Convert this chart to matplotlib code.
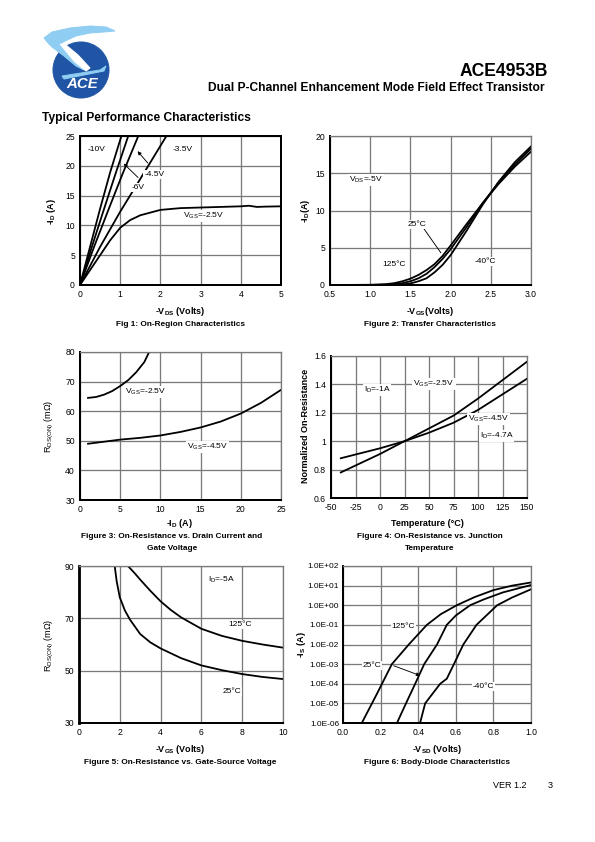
import numpy as np
import matplotlib
matplotlib.use("Agg")
import matplotlib.pyplot as plt
from matplotlib.patches import Circle, Polygon

plt.rcParams['font.family'] = ['Liberation Sans', 'DejaVu Sans']
plt.rcParams['mathtext.fontset'] = 'custom'
plt.rcParams['mathtext.rm'] = 'Liberation Sans'
plt.rcParams['mathtext.bf'] = 'Liberation Sans:bold'
plt.rcParams['mathtext.default'] = 'regular'
plt.rcParams['axes.unicode_minus'] = False

W, H = 595, 842
# ---------------- data ----------------
# Fig 1: On-region characteristics
vds_10 = [0, 0.25, 0.5, 0.75, 1.03]
id_10 = [0, 6.4, 12.8, 18.9, 25]
vds_6 = [0, 0.3, 0.6, 0.9, 1.2]
id_6 = [0, 6.5, 12.8, 19.0, 25]
vds_45 = [0, 0.35, 0.7, 1.05, 1.45]
id_45 = [0, 6.4, 12.5, 18.5, 25]
vds_35 = [0, 0.5, 1.0, 1.5, 2.15]
id_35 = [0, 6.4, 12.3, 17.8, 25]
vds_25 = [0, 0.36, 0.5, 0.75, 1.0, 1.25, 1.5, 2.0, 2.5, 3.0, 3.5, 4.0, 4.2, 4.4, 4.6, 5.0]
id_25 = [0, 3.6, 5.0, 7.5, 9.6, 10.9, 11.7, 12.6, 12.9, 13.0, 13.1, 13.2, 13.3, 13.1, 13.15, 13.2]

# Fig 2: Transfer characteristics
vgs_t = [0.5, 1.0, 1.2, 1.3, 1.4, 1.5, 1.6, 1.7, 1.8, 1.9, 2.0, 2.2, 2.4, 2.6, 2.8, 3.0]
id_125 = [0, 0.03, 0.12, 0.25, 0.5, 0.85, 1.35, 2.0, 2.8, 3.9, 5.3, 8.2, 11.0, 13.6, 15.9, 17.9]
id_25c = [0, 0.0, 0.03, 0.1, 0.25, 0.5, 0.9, 1.5, 2.4, 3.5, 4.8, 7.8, 11.0, 13.8, 16.2, 18.3]
id_m40 = [0, 0.0, 0.0, 0.02, 0.08, 0.2, 0.5, 0.9, 1.7, 2.7, 4.0, 7.3, 10.8, 13.9, 16.5, 18.6]

# Fig 3: On-resistance vs drain current
id_a = [1, 2, 3, 4, 5, 6, 7, 8, 8.6]
r_a = [64.5, 64.8, 65.6, 66.8, 68.5, 70.5, 73.2, 76.6, 80]
id_b = [1, 3, 5, 7.5, 10, 12.5, 15, 17.5, 20, 22.5, 25]
r_b = [49.0, 49.7, 50.4, 51.0, 51.8, 53.0, 54.5, 56.5, 59.2, 62.8, 67.2]

# Fig 4: Normalized on-resistance vs temperature
temp = [-40, 0, 25, 50, 75, 100, 125, 150]
rn_1a = [0.88, 0.95, 1.0, 1.06, 1.13, 1.22, 1.33, 1.44]
rn_47a = [0.78, 0.91, 1.0, 1.09, 1.18, 1.30, 1.43, 1.56]

# Fig 5: On-resistance vs gate-source voltage
vg_25 = [1.75, 1.85, 2.0, 2.25, 2.5, 3.0, 3.5, 4.0, 5.0, 6.0, 7.0, 8.0, 9.0, 10.0]
r_25 = [90, 84, 78, 73, 69.5, 64.0, 60.8, 58.5, 54.8, 52.0, 50.2, 48.7, 47.6, 46.8]
vg_125 = [2.4, 2.7, 3.0, 3.5, 4.0, 4.5, 5.0, 6.0, 7.0, 8.0, 9.0, 10.0]
r_125 = [90, 87.5, 84.8, 80.5, 76.5, 73.2, 70.4, 66.0, 63.3, 61.4, 60.0, 58.8]

# Fig 6: Body diode characteristics
vsd_125 = [0.10, 0.18, 0.26, 0.35, 0.446, 0.52, 0.605, 0.7, 0.8, 0.9, 1.0]
is_125 = [1e-6, 3e-5, 1e-3, 1e-2, 1e-1, 0.35, 1.0, 2.6, 5.9, 10.0, 14.5]
vsd_25 = [0.287, 0.335, 0.384, 0.432, 0.5, 0.552, 0.6, 0.676, 0.75, 0.85, 1.0]
is_25 = [1e-6, 1e-5, 1e-4, 1e-3, 1e-2, 1e-1, 0.3, 1.0, 2.0, 4.5, 10.7]
vsd_m40 = [0.41, 0.437, 0.517, 0.552, 0.59, 0.64, 0.71, 0.82, 0.9, 1.0]
is_m40 = [1e-6, 1e-5, 1e-4, 1.8e-4, 1e-3, 1e-2, 1e-1, 1.0, 2.5, 6.5]

log_ticks = [1e-6, 1e-5, 1e-4, 1e-3, 1e-2, 1e-1, 1e0, 1e1, 1e2]
log_labels = ['1.0E-06', '1.0E-05', '1.0E-04', '1.0E-03', '1.0E-02', '1.0E-01',
              '1.0E+00', '1.0E+01', '1.0E+02']

# ---------------- figure ----------------
fig = plt.figure(figsize=(W / 72, H / 72), dpi=72)
bg = fig.add_axes([0, 0, 1, 1])
bg.set_xlim(0, W)
bg.set_ylim(H, 0)
bg.axis('off')

# logo
LB = '#8fcdf2'
bg.add_patch(Circle((81, 70), 28, color='#1f55a4', zorder=1))
bg.add_patch(Polygon([(44, 38), (52, 32), (70, 28), (90, 26), (106, 27), (115, 31),
                      (104, 32), (90, 33), (76, 36), (63, 42), (57, 47), (50, 45)],
                     closed=True, color=LB, zorder=2))
bg.add_patch(Polygon([(46, 40), (58, 43), (70, 52), (80, 63), (84, 70), (76, 66),
                      (64, 56), (52, 47)], closed=True, color=LB, zorder=2))
bg.add_patch(Polygon([(60, 44), (66, 45), (78, 55), (90, 68), (86, 71), (74, 61)],
                     closed=True, color='white', zorder=3))
bg.add_patch(Polygon([(62, 76), (100, 70), (106, 66), (104, 71), (64, 79)],
                     closed=True, color=LB, zorder=2))
bg.text(82, 84, 'ACE', color='white', fontsize=15, fontweight='bold', style='italic',
        ha='center', va='center', zorder=4)

bg.text(548, 71, 'ACE4953B', fontsize=17.5, fontweight='bold', ha='right', va='center')
bg.text(545, 88, 'Dual P-Channel Enhancement Mode Field Effect Transistor', fontsize=12,
        fontweight='bold', ha='right', va='center')
bg.text(42, 118, 'Typical Performance Characteristics', fontsize=12, fontweight='bold',
        ha='left', va='center')
bg.text(493, 785, 'VER 1.2', fontsize=9, ha='left', va='center')
bg.text(553, 785, '3', fontsize=9, ha='right', va='center')

GRID = '#7a7a7a'
TICK = 8.6
LBL = 9.0
CAP = 8.2
INL = 8.4
box = dict(facecolor='white', edgecolor='none', pad=1.0)


def make_ax(l, r_, t_, b_, all_black=False):
    ax = fig.add_axes([l / W, 1 - b_ / H, (r_ - l) / W, (b_ - t_) / H])
    ax.grid(True, color=GRID, linewidth=1.3)
    ax.set_axisbelow(True)
    ax.tick_params(length=0, labelsize=TICK, pad=5)
    for s in ['left', 'bottom']:
        ax.spines[s].set_linewidth(2.0)
        ax.spines[s].set_color('black')
    for s in ['top', 'right']:
        ax.spines[s].set_linewidth(2.0 if all_black else 1.3)
        ax.spines[s].set_color('black' if all_black else GRID)
    return ax


def ptext(x, y, s, **kw):
    kw.setdefault('ha', 'center')
    kw.setdefault('va', 'center')
    bg.text(x, y, s, **kw)


LW = 1.8
# ---- Fig 1 ----
ax1 = make_ax(80, 281, 136, 285, all_black=True)
for xs, ys in [(vds_10, id_10), (vds_6, id_6), (vds_45, id_45), (vds_35, id_35), (vds_25, id_25)]:
    ax1.plot(xs, ys, color='black', lw=LW, clip_on=True)
ax1.set_xlim(0, 5)
ax1.set_ylim(0, 25)
ax1.set_xticks([0, 1, 2, 3, 4, 5])
ax1.set_yticks([0, 5, 10, 15, 20, 25])
ax1.text(0.42, 22.7, '-10V', fontsize=INL, ha='center', va='center', bbox=box)
ax1.text(2.3, 22.8, '-3.5V', fontsize=INL, ha='left', va='center', bbox=box)
ax1.text(1.85, 18.6, '-4.5V', fontsize=INL, ha='center', va='center', bbox=box)
ax1.text(1.45, 16.4, '-6V', fontsize=INL, ha='center', va='center', bbox=box)
ax1.annotate('', xy=(1.4, 22.7), xytext=(1.72, 20.2),
             arrowprops=dict(arrowstyle='-|>', color='black', lw=0.9, mutation_scale=7))
ax1.annotate('', xy=(1.05, 20.6), xytext=(1.48, 17.8),
             arrowprops=dict(arrowstyle='-|>', color='black', lw=0.9, mutation_scale=7))
ax1.text(2.55, 11.6, 'V$_{GS}$=-2.5V', fontsize=INL, ha='left', va='center', bbox=box)
ptext(180, 311, '-V$_{\\mathbf{DS}}$ (Volts)', fontsize=LBL, fontweight='bold')
ptext(180, 324, 'Fig 1: On-Region Characteristics', fontsize=CAP, fontweight='bold')
ptext(51, 211, '-I$_{\\mathbf{D}}$ (A)', fontsize=LBL, fontweight='bold', rotation=90)

# ---- Fig 2 ----
ax2 = make_ax(330, 531, 136, 285)
for ys in [id_125, id_25c, id_m40]:
    ax2.plot(vgs_t, ys, color='black', lw=LW)
ax2.set_xlim(0.5, 3.0)
ax2.set_ylim(0, 20)
ax2.set_xticks([0.5, 1.0, 1.5, 2.0, 2.5, 3.0])
ax2.set_xticklabels(['0.5', '1.0', '1.5', '2.0', '2.5', '3.0'])
ax2.set_yticks([0, 5, 10, 15, 20])
ax2.text(0.95, 14.1, 'V$_{DS}$=-5V', fontsize=INL, ha='center', va='center', bbox=box)
ax2.text(1.58, 8.1, '25°C', fontsize=INL, ha='center', va='center', bbox=box)
ax2.plot([1.665, 1.877], [7.6, 4.35], color='black', lw=0.9)
ax2.text(1.3, 2.8, '125°C', fontsize=INL, ha='center', va='center', bbox=box)
ax2.text(2.43, 3.2, '-40°C', fontsize=INL, ha='center', va='center', bbox=box)
ptext(430, 311, '-V$_{\\mathbf{GS}}$(Volts)', fontsize=LBL, fontweight='bold')
ptext(430, 324, 'Figure 2: Transfer Characteristics', fontsize=CAP, fontweight='bold')
ptext(305, 211, '-I$_{\\mathbf{D}}$(A)', fontsize=LBL, fontweight='bold', rotation=90)

# ---- Fig 3 ----
ax3 = make_ax(80, 281, 352, 500)
ax3.plot(id_a, r_a, color='black', lw=LW)
ax3.plot(id_b, r_b, color='black', lw=LW)
ax3.set_xlim(0, 25)
ax3.set_ylim(30, 80)
ax3.set_xticks([0, 5, 10, 15, 20, 25])
ax3.set_yticks([30, 40, 50, 60, 70, 80])
ax3.text(8.2, 66.5, 'V$_{GS}$=-2.5V', fontsize=INL, ha='center', va='center', bbox=box)
ax3.text(15.9, 47.9, 'V$_{GS}$=-4.5V', fontsize=INL, ha='center', va='center', bbox=box)
ptext(180, 524, '-I$_{\\mathbf{D}}$ (A)', fontsize=LBL, fontweight='bold')
ptext(172, 537, 'Figure 3: On-Resistance vs. Drain Current and', fontsize=CAP, fontweight='bold')
ptext(172, 549, 'Gate Voltage', fontsize=CAP, fontweight='bold')
ptext(49, 426, 'R$_{DS(ON)}$ (mΩ)', fontsize=LBL, rotation=90)

# ---- Fig 4 ----
ax4 = make_ax(331, 527, 356, 498)
ax4.plot(temp, rn_1a, color='black', lw=LW)
ax4.plot(temp, rn_47a, color='black', lw=LW)
ax4.set_xlim(-50, 150)
ax4.set_ylim(0.6, 1.6)
ax4.set_xticks([-50, -25, 0, 25, 50, 75, 100, 125, 150])
ax4.set_yticks([0.6, 0.8, 1.0, 1.2, 1.4, 1.6])
ax4.set_yticklabels(['0.6', '0.8', '1', '1.2', '1.4', '1.6'])
ax4.text(-3, 1.36, 'I$_D$=-1A', fontsize=INL, ha='center', va='center', bbox=box)
ax4.text(55, 1.405, 'V$_{GS}$=-2.5V', fontsize=INL, ha='center', va='center', bbox=box)
ax4.text(111, 1.154, 'V$_{GS}$=-4.5V', fontsize=INL, ha='center', va='center', bbox=box)
ax4.text(119, 1.034, 'I$_D$=-4.7A', fontsize=INL, ha='center', va='center', bbox=box)
ptext(427, 524, 'Temperature (°C)', fontsize=LBL, fontweight='bold')
ptext(430, 536, 'Figure 4: On-Resistance vs. Junction', fontsize=CAP, fontweight='bold')
ptext(430, 548, 'Temperature', fontsize=CAP, fontweight='bold')
ptext(305, 426, 'Normalized On-Resistance', fontsize=LBL, fontweight='bold', rotation=90)

# ---- Fig 5 ----
ax5 = make_ax(79, 283, 566, 723)
ax5.spines['left'].set_linewidth(2.8)
ax5.plot(vg_25, r_25, color='black', lw=LW)
ax5.plot(vg_125, r_125, color='black', lw=LW)
ax5.set_xlim(0, 10)
ax5.set_ylim(30, 90)
ax5.set_xticks([0, 2, 4, 6, 8, 10])
ax5.set_yticks([30, 50, 70, 90])
ax5.text(7.0, 84.6, 'I$_D$=-5A', fontsize=INL, ha='center', va='center', bbox=box)
ax5.text(7.9, 67.8, '125°C', fontsize=INL, ha='center', va='center', bbox=box)
ax5.text(7.5, 41.9, '25°C', fontsize=INL, ha='center', va='center', bbox=box)
ptext(180, 750, '-V$_{\\mathbf{GS}}$ (Volts)', fontsize=LBL, fontweight='bold')
ptext(180, 763, 'Figure 5: On-Resistance vs. Gate-Source Voltage', fontsize=CAP, fontweight='bold')
ptext(49, 645, 'R$_{DS(ON)}$ (mΩ)', fontsize=LBL, rotation=90)

# ---- Fig 6 ----
ax6 = make_ax(343, 531, 566, 723)
ax6.set_yscale('log')
ax6.plot(vsd_125, is_125, color='black', lw=LW)
ax6.plot(vsd_25, is_25, color='black', lw=LW)
ax6.plot(vsd_m40, is_m40, color='black', lw=LW)
ax6.set_xlim(0, 1.0)
ax6.set_ylim(1e-6, 1e2)
ax6.set_xticks([0, 0.2, 0.4, 0.6, 0.8, 1.0])
ax6.set_xticklabels(['0.0', '0.2', '0.4', '0.6', '0.8', '1.0'])
ax6.set_yticks(log_ticks)
ax6.set_yticklabels(log_labels)
ax6.yaxis.set_minor_locator(matplotlib.ticker.NullLocator())
ax6.tick_params(axis='y', labelsize=8.2, pad=4)
ax6.text(0.322, 0.08, '125°C', fontsize=INL, ha='center', va='center', bbox=box)
ax6.text(0.154, 8.8e-4, '25°C', fontsize=INL, ha='center', va='center', bbox=box)
ax6.annotate('', xy=(0.42, 2.4e-4), xytext=(0.26, 9e-4),
             arrowprops=dict(arrowstyle='-|>', color='black', lw=0.9, mutation_scale=7))
ax6.text(0.747, 6.9e-5, '-40°C', fontsize=INL, ha='center', va='center', bbox=box)
ptext(437, 749, '-V$_{\\mathbf{SD}}$ (Volts)', fontsize=LBL, fontweight='bold')
ptext(437, 763, 'Figure 6: Body-Diode Characteristics', fontsize=CAP, fontweight='bold')
ptext(302, 645, '-I$_{\\mathbf{S}}$ (A)', fontsize=LBL, fontweight='bold', rotation=90)

fig.savefig('out.png', dpi=72)
